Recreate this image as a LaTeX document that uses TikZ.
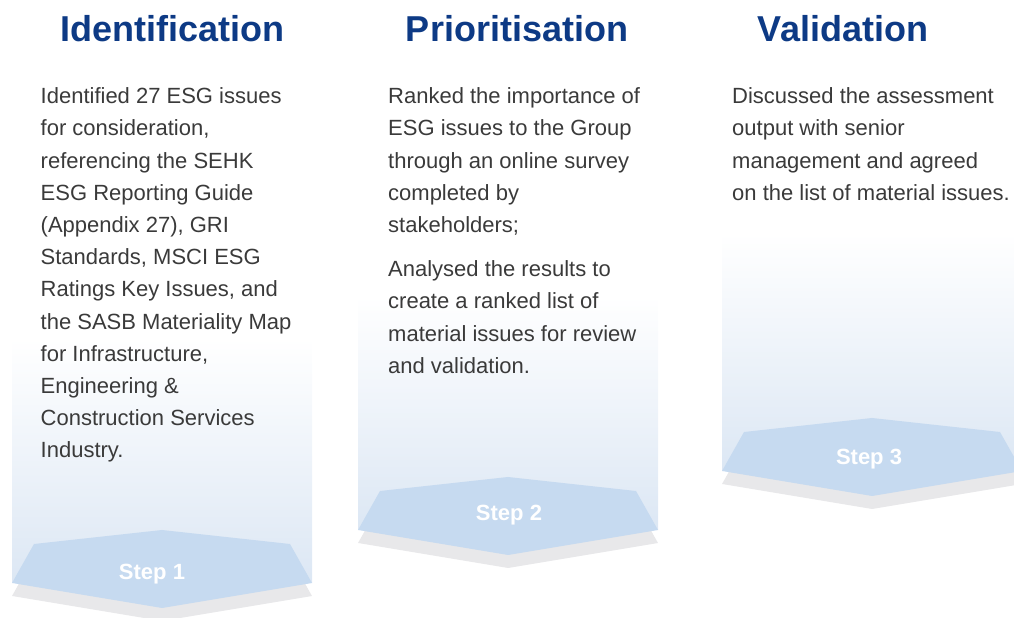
\documentclass[tikz,border=0pt]{standalone}
\usepackage{fontspec}
\setmainfont{Liberation Sans}
\usepackage{xcolor}
\usepackage{tikz}
\usetikzlibrary{positioning}

\definecolor{titleblue}{HTML}{0D3A85}
\definecolor{bodygray}{HTML}{3A3A3A}
\definecolor{panelblue}{HTML}{DCE7F4}
\definecolor{badgeblue}{HTML}{C6DAF0}
\definecolor{shadowgray}{HTML}{E8E8EA}

\begin{document}
\begin{tikzpicture}[
    x=1pt, y=1pt,
    title/.style={font=\fontsize{36}{40}\selectfont\bfseries, text=titleblue, inner sep=0pt, anchor=base},
    body/.style={font=\fontsize{22}{32.2}\selectfont, text=bodygray, align=left, inner sep=0pt, anchor=north west},
    panel/.style={top color=white, bottom color=panelblue, draw=none},
    badge/.style={fill=badgeblue},
    shadow/.style={fill=shadowgray},
    steplabel/.style={font=\fontsize{22}{26}\selectfont\bfseries, text=white, inner sep=0pt}
]
    \useasboundingbox (0,0) rectangle (1014,618);

    % backgrounds
    \shade[panel] (12,35) rectangle (312,280);
    \shade[panel] (358,88) rectangle (658,322);
    \shade[panel] (722,147) rectangle (1022,385);

    % step badges
    \fill[shadow] (12,22) -- ++(150,-25) -- ++(150,25) -- ++(-22,39) -- ++(-128,14) -- ++(-128,-14) -- cycle;
    \fill[badge] (12,35) -- ++(150,-25) -- ++(150,25) -- ++(-22,39) -- ++(-128,14) -- ++(-128,-14) -- cycle;
    \fill[shadow] (358,75) -- ++(150,-25) -- ++(150,25) -- ++(-22,39) -- ++(-128,14) -- ++(-128,-14) -- cycle;
    \fill[badge] (358,88) -- ++(150,-25) -- ++(150,25) -- ++(-22,39) -- ++(-128,14) -- ++(-128,-14) -- cycle;
    \fill[shadow] (722,134) -- ++(150,-25) -- ++(150,25) -- ++(-22,39) -- ++(-128,14) -- ++(-128,-14) -- cycle;
    \fill[badge] (722,147) -- ++(150,-25) -- ++(150,25) -- ++(-22,39) -- ++(-128,14) -- ++(-128,-14) -- cycle;

    \node[steplabel] (step1) at (152,44) {Step 1};
    \node[steplabel] (step2) at (509,103) {Step 2};
    \node[steplabel] (step3) at (869,159) {Step 3};

    % titles
    \node[title] (identification) at (172,576) {Identification};
    \node[title] (prioritisation) at (517,576) {Prioritisation};
    \node[title] (validation) at (843,576) {Validation};

    % descriptions
    \node[body] (idtext) at (40.5,530.5) {Identified 27 ESG issues\\for consideration,\\referencing the SEHK\\ESG Reporting Guide\\(Appendix 27), GRI\\Standards, MSCI ESG\\Ratings Key Issues, and\\the SASB Materiality Map\\for Infrastructure,\\Engineering \&\\Construction Services\\Industry.};
    \node[body] (prtext) at (388,530.5) {Ranked the importance of\\ESG issues to the Group\\through an online survey\\completed by\\stakeholders;\\[12pt]Analysed the results to\\create a ranked list of\\material issues for review\\and validation.};
    \node[body] (vltext) at (732,530.5) {Discussed the assessment\\output with senior\\management and agreed\\on the list of material issues.};
\end{tikzpicture}
\end{document}
